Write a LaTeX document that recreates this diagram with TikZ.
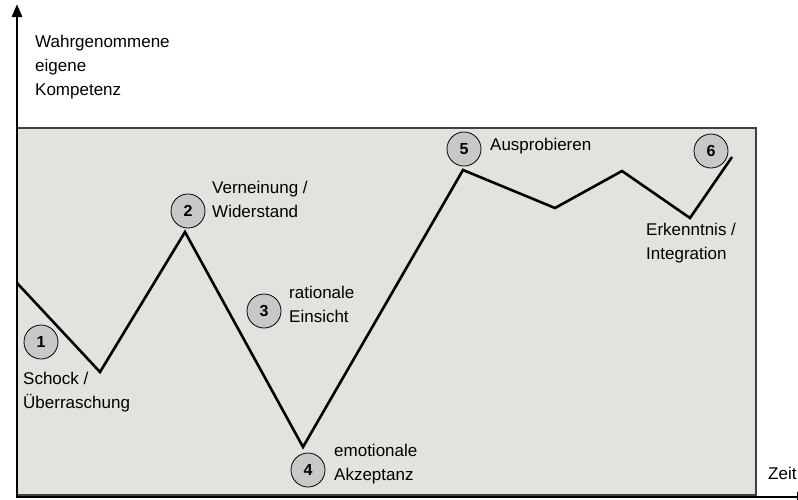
\documentclass[tikz,border=0pt]{standalone}
\usepackage{fontspec}
\setmainfont{Liberation Sans}
\usetikzlibrary{arrows.meta}
\definecolor{panel}{HTML}{E3E2DE}
\definecolor{disc}{HTML}{C8C8C8}
\definecolor{frame}{HTML}{404040}
\tikzset{
  lbl/.style={anchor=north west, inner sep=0pt, align=left, font=\fontsize{17}{24}\selectfont},
  num/.style={circle, draw=black, fill=disc, line width=0.8pt, minimum size=34pt, inner sep=0pt, font=\fontsize{16}{16}\selectfont\bfseries},
  curve/.style={line width=2.6pt, line join=miter},
  axis/.style={line width=2.8pt, -{Triangle[length=13pt,width=10pt]}}
}
\begin{document}
\begin{tikzpicture}[x=1pt,y=-1pt]
\useasboundingbox (0,0) rectangle (798,499);
\clip (0,0) rectangle (798,499);
\fill[white] (0,0) rectangle (798,499);
\draw[frame, fill=panel, line width=1.4pt] (17,128) rectangle (756,495);
% axes
\coordinate (o) at (17,497);
\coordinate (ytop) at (17,4);
\coordinate (xend) at (810,497);
\draw[axis] (o) -- (ytop);
\draw[axis] ([xshift=-1.4pt]o) -- (xend);
% curve
\coordinate (p0) at (17,283);
\coordinate (p1) at (100,372);
\coordinate (p2) at (185,232);
\coordinate (p3) at (303,447);
\coordinate (p4) at (463,170);
\coordinate (p5) at (555,208);
\coordinate (p6) at (622,171);
\coordinate (p7) at (690,218);
\coordinate (p8) at (732,157);
\draw[curve] (p0) -- (p1) -- (p2) -- (p3) -- (p4) -- (p5) -- (p6) -- (p7) -- (p8);
% numbered circles
\node[num] (n1) at (41,342) {1};
\node[num] (n2) at (188,211) {2};
\node[num] (n3) at (264,311) {3};
\node[num] (n4) at (308,470) {4};
\node[num] (n5) at (464,149) {5};
\node[num] (n6) at (711,151) {6};
% labels
\node[lbl] (ylab) at (35,35) {Wahrgenommene\\eigene\\Kompetenz};
\node[lbl] (l1) at (23,372) {Schock /\\Überraschung};
\node[lbl] (l2) at (212,181) {Verneinung /\\Widerstand};
\node[lbl] (l3) at (289,286) {rationale\\Einsicht};
\node[lbl] (l4) at (334,444) {emotionale\\Akzeptanz};
\node[lbl] (l5) at (490,138) {Ausprobieren};
\node[lbl] (l6) at (646,223) {Erkenntnis /\\Integration};
\node[lbl] (xlab) at (768,467) {Zeit};
\end{tikzpicture}
\end{document}
